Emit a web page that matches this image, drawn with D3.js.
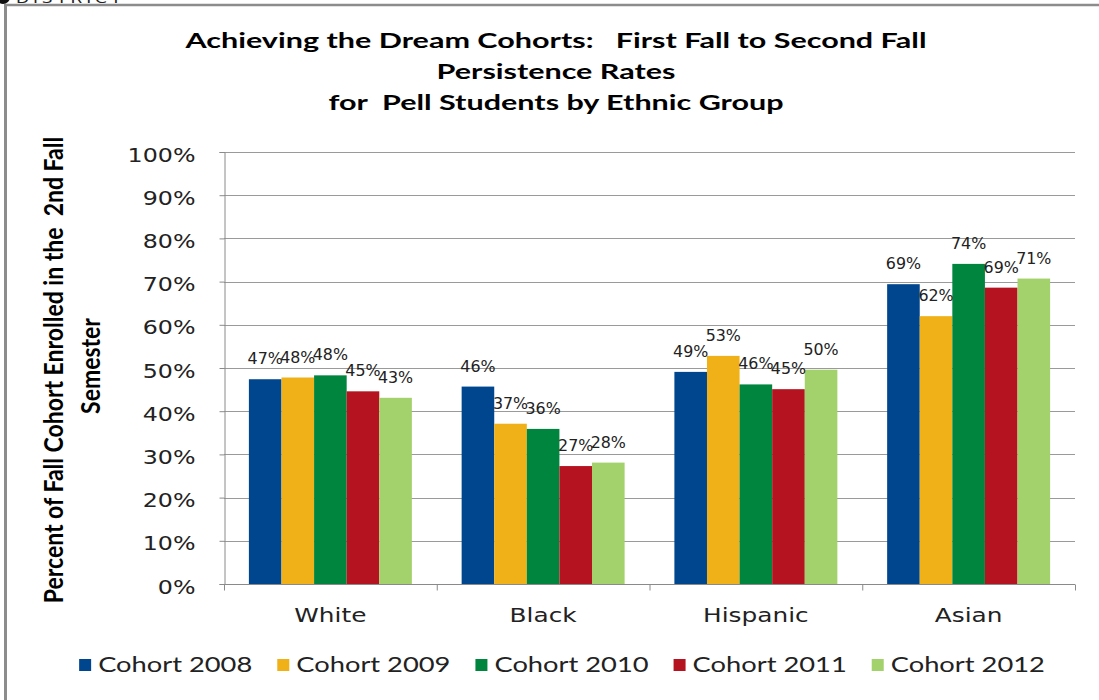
<!DOCTYPE html>
<html><head><meta charset="utf-8">
<script src="https://cdn.jsdelivr.net/npm/d3@7"></script>
<style>
html,body{margin:0;padding:0;background:#fff;}
svg{display:block;}
svg text{white-space:pre;}
</style></head>
<body>
<script>
const titleLines = ["Achieving the Dream Cohorts:   First Fall to Second Fall", "Persistence Rates", "for  Pell Students by Ethnic Group"];
const yAxisTitle = ["Percent of Fall Cohort Enrolled in the  2nd Fall", "Semester"];
const categories = ["White", "Black", "Hispanic", "Asian"];
const seriesNames = ["Cohort 2008", "Cohort 2009", "Cohort 2010", "Cohort 2011", "Cohort 2012"];
const seriesColors = ["#00468E", "#EFB117", "#00853E", "#B5131F", "#A3D16B"];
const cohort2008 = [47.4, 45.7, 49.1, 69.4];
const cohort2009 = [47.8, 37.1, 52.8, 62.0];
const cohort2010 = [48.3, 35.9, 46.2, 74.1];
const cohort2011 = [44.6, 27.3, 45.1, 68.6];
const cohort2012 = [43.1, 28.1, 49.6, 70.7];
const yTicks = [0, 10, 20, 30, 40, 50, 60, 70, 80, 90, 100];

const series = [cohort2008, cohort2009, cohort2010, cohort2011, cohort2012];
const W = 1099, H = 700;

const svg = d3.select("body").append("svg").attr("width", W).attr("height", H);

// frame
svg.append("line").attr("x1", 5.5).attr("y1", 5).attr("x2", 5.5).attr("y2", H).attr("stroke", "#8c8c8c").attr("stroke-width", 3);
svg.append("line").attr("x1", 4).attr("y1", 5).attr("x2", W).attr("y2", 5).attr("stroke", "#8c8c8c").attr("stroke-width", 2.5);
svg.append("circle").attr("cx", 3).attr("cy", -3).attr("r", 7).attr("fill", "#111");
svg.append("text").attr("transform", "translate(16,3) scale(1.3,1)")
  .attr("font-family", "DejaVu Sans").attr("font-size", 13).attr("letter-spacing", 3).attr("fill", "#222").text("DISTRICT");

function stext(g, x, y, sx, str) {
  return g.append("text").attr("transform", `translate(${x},${y}) scale(${sx},1)`).text(str);
}

const x0 = 224, x1 = 1075, yTop = 152, yBot = 584;
const x = d3.scaleBand().domain(categories).range([x0, x1]).paddingInner(0.234).paddingOuter(0.117);
const xs = d3.scaleBand().domain(d3.range(series.length)).range([0, x.bandwidth()]);
const y = d3.scaleLinear().domain([0, 100]).range([yBot, yTop]);

// title
const tg = svg.append("g").attr("font-family", "Lato").attr("font-weight", "bold").attr("font-size", 21.5).attr("fill", "#000").attr("text-anchor", "middle");
titleLines.forEach((t, i) => stext(tg, 556, 48 + i * 31, 1.42, t));

// gridlines
svg.append("g").selectAll("line").data(yTicks.filter(d => d > 0)).join("line")
  .attr("x1", x0).attr("x2", x1).attr("y1", d => Math.round(y(d)) + 0.5).attr("y2", d => Math.round(y(d)) + 0.5)
  .attr("stroke", "#9a9a9a").attr("stroke-width", 1);

// y axis
const yAxis = svg.append("g").attr("transform", `translate(${x0 + 0.5},0)`)
  .call(d3.axisLeft(y).tickValues(yTicks).tickSize(5).tickFormat(d => d + "%"));
yAxis.select(".domain").attr("stroke", "#8a8a8a");
yAxis.selectAll(".tick line").attr("stroke", "#8a8a8a");
yAxis.selectAll(".tick text").remove();
yAxis.selectAll(".tick").each(function(d) {
  d3.select(this).append("text").attr("transform", `translate(-29,9) scale(1.25,1)`)
    .attr("font-family", "DejaVu Sans").attr("font-size", 19).attr("fill", "#222").attr("text-anchor", "end").text(d + "%");
});

// bars
const bg = svg.append("g");
categories.forEach((c, ci) => {
  series.forEach((s, si) => {
    bg.append("rect").attr("x", x(c) + xs(si)).attr("y", y(s[ci])).attr("width", xs.bandwidth()).attr("height", y(0) - y(s[ci]))
      .attr("fill", seriesColors[si]);
  });
});

// data labels
const lg = svg.append("g").attr("font-family", "DejaVu Sans").attr("font-size", 15).attr("fill", "#222").attr("text-anchor", "middle");
categories.forEach((c, ci) => {
  series.forEach((s, si) => {
    stext(lg, x(c) + xs(si) + xs.bandwidth() / 2, y(s[ci]) - 15, 1.06, Math.round(s[ci]) + "%");
  });
});

// x axis
const xAxis = svg.append("g").attr("transform", `translate(0,${yBot + 0.5})`);
xAxis.append("line").attr("x1", x0).attr("x2", x1).attr("stroke", "#8a8a8a");
const bounds = d3.range(categories.length + 1).map(i => x0 + i * x.step());
xAxis.selectAll(".tk").data(bounds).join("line").attr("class", "tk")
  .attr("x1", d => d + 0.5).attr("x2", d => d + 0.5).attr("y1", 0).attr("y2", 6).attr("stroke", "#8a8a8a");
const cg = svg.append("g").attr("font-family", "DejaVu Sans").attr("font-size", 20).attr("fill", "#222").attr("text-anchor", "middle");
categories.forEach(c => stext(cg, x(c) + x.bandwidth() / 2, 622, 1.24, c));

// y axis title
const yg = svg.append("g").attr("font-family", "Lato").attr("font-weight", "bold").attr("font-size", 23).attr("fill", "#000").attr("text-anchor", "middle");
yg.append("text").attr("transform", `translate(63,370) scale(1.12,1) rotate(-90)`).text(yAxisTitle[0]);
yg.append("text").attr("transform", `translate(100,366) scale(1.12,1) rotate(-90)`).text(yAxisTitle[1]);

// legend
const leg = svg.append("g").attr("font-family", "Lato").attr("font-size", 21).attr("fill", "#222");
const items = seriesNames.map((n, i) => {
  const g = leg.append("g");
  g.append("rect").attr("x", 0).attr("y", -13).attr("width", 12).attr("height", 12).attr("fill", seriesColors[i]);
  const t = stext(g, 19, 0, 1.3, n);
  const w = 19 + t.node().getComputedTextLength() * 1.3;
  return {g, w};
});
const gap = 25;
const total = d3.sum(items, d => d.w) + gap * (items.length - 1);
let cx = 562 - total / 2;
items.forEach(it => { it.g.attr("transform", `translate(${cx},672)`); cx += it.w + gap; });
</script>
</body></html>
